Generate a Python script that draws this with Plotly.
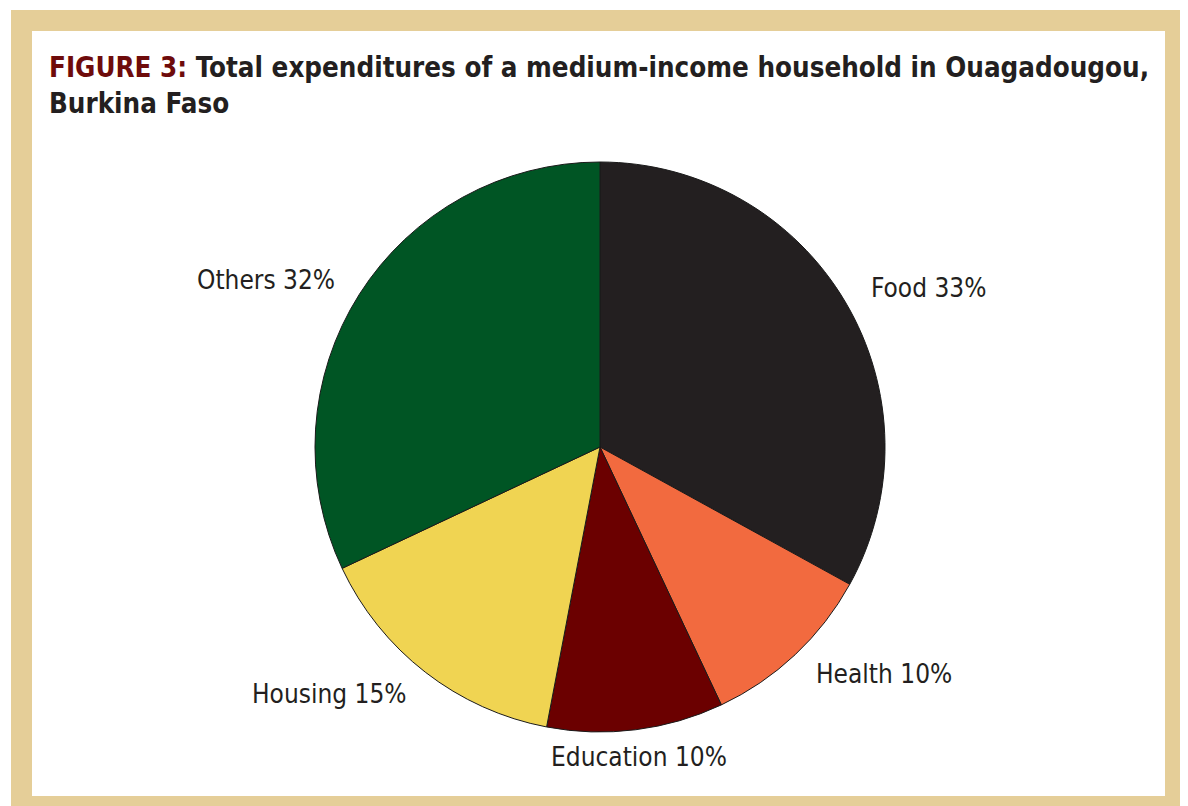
import math
import plotly.graph_objects as go

W, H = 1188, 806
OFF = 8  # page body margin of the html page

categories = ["Food", "Health", "Education", "Housing", "Others"]
shares = [33, 10, 10, 15, 32]
colors = ["#231F20", "#F26A3F", "#6B0000", "#F0D452", "#005524"]

title_prefix = "FIGURE 3:"
title_rest = "Total expenditures of a medium-income household in Ouagadougou,<br>Burkina Faso"

FONT = "DejaVu Sans Condensed, Liberation Sans Narrow, sans-serif"


def px(x):
    return (x - OFF) / W


def py(y):
    return 1 - (y - OFF) / H


cx, cy, r = 600, 447, 285
gap = 27

fig = go.Figure(go.Pie(
    labels=categories,
    values=shares,
    sort=False,
    direction="clockwise",
    rotation=0,
    marker=dict(colors=colors, line=dict(color="#1a1a1a", width=1)),
    textinfo="none",
    hoverinfo="label+percent",
    showlegend=False,
    domain=dict(x=[px(cx - r), px(cx + r)], y=[py(cy + r), py(cy - r)]),
))

# slice labels placed just outside each slice's mid-angle
annotations = []
total = sum(shares)
cum = 0
for cat, v in zip(categories, shares):
    mid = (cum + v / 2) / total * 2 * math.pi
    cum += v
    s, c = math.sin(mid), math.cos(mid)
    lx = cx + (r + gap) * s
    ly = cy - (r + gap) * c
    if s > 0.3:
        xa = "left"
    elif s < -0.3:
        xa = "right"
    else:
        xa = "center"
    annotations.append(dict(
        text=f"{cat} {v}%", x=px(lx), y=py(ly), xref="paper", yref="paper",
        xanchor=xa, yanchor="middle", showarrow=False,
        font=dict(family=FONT, size=26, color="#231F20"),
    ))

annotations.append(dict(
    text=f"<b><span style='color:#6E0B0B'>{title_prefix}</span> {title_rest}</b>",
    x=px(47), y=py(49), xref="paper", yref="paper",
    xanchor="left", yanchor="top", align="left", showarrow=False,
    font=dict(family=FONT, size=27.5, color="#231F20"),
))

fig.update_layout(
    width=W, height=H,
    margin=dict(l=0, r=0, t=0, b=0),
    paper_bgcolor="white",
    annotations=annotations,
    shapes=[
        dict(type="rect", xref="paper", yref="paper", layer="below",
             x0=px(11), x1=1, y0=0, y1=py(10),
             fillcolor="#E5CE98", line=dict(width=0)),
        dict(type="rect", xref="paper", yref="paper", layer="below",
             x0=px(32), x1=px(1165), y0=py(796), y1=py(31),
             fillcolor="white", line=dict(width=0)),
    ],
)

fig.write_html("out.html")
